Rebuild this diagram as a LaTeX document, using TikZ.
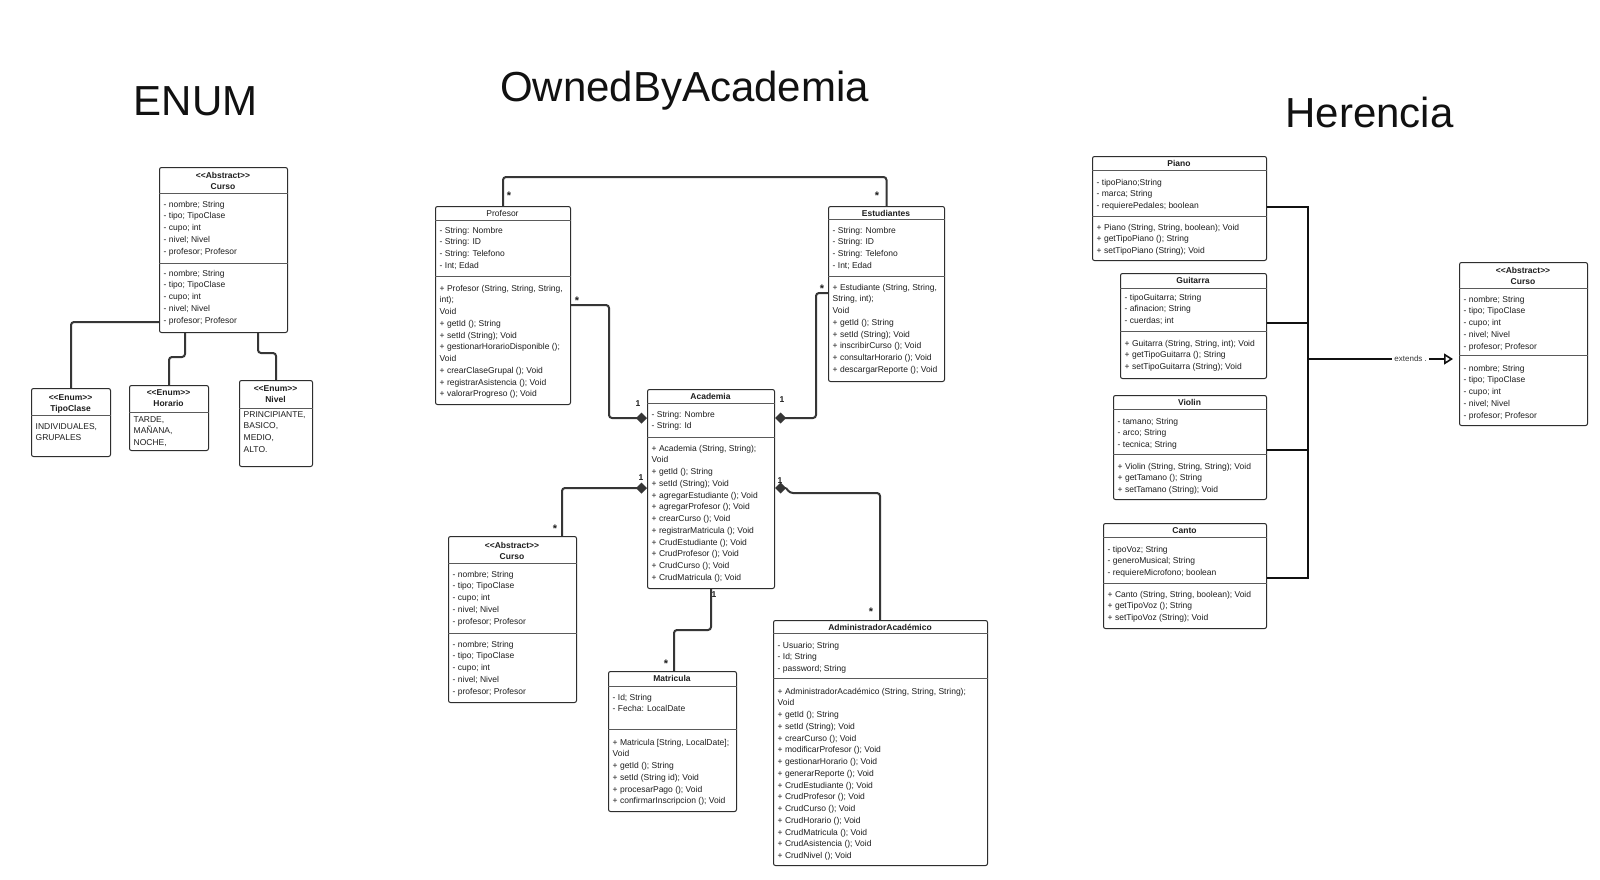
\documentclass[tikz,border=0pt]{standalone}
\usepackage{fontspec}
\setmainfont{Liberation Sans}[Ligatures=TeXOff]
\usetikzlibrary{arrows.meta}
\definecolor{boxc}{HTML}{2E2E2E}
\definecolor{divc}{HTML}{5A5A5A}
\definecolor{txtc}{HTML}{1E1E1E}
\definecolor{conc}{HTML}{363636}
\definecolor{herc}{HTML}{111111}
\definecolor{titc}{HTML}{111111}
\newcommand\bodyfont{\fontsize{8.5}{11.75}\selectfont}
\newcommand\hdrfont{\fontsize{8.5}{11.3}\selectfont\bfseries}
\newcommand\fs{\rule{0pt}{7pt}}
\tikzset{
  box/.style={draw=boxc, line width=1pt, rounded corners=2pt, fill=white, inner sep=0pt, anchor=north west},
  divl/.style={draw=divc, line width=0.9pt},
  comp/.style={anchor=north west, align=left, inner sep=0pt, font=\bodyfont, text=txtc},
  hdr/.style={anchor=north, align=center, inner sep=0pt, font=\hdrfont, text=txtc},
  conn/.style={draw=conc, line width=2pt, rounded corners=3pt},
  hconn/.style={draw=herc, line width=2.5pt},
  dia/.style={-{Diamond[length=11pt,width=11pt]}},
  mult/.style={font=\fontsize{8.5}{10}\selectfont\bfseries, inner sep=0pt, text=txtc},
  multstar/.style={font=\fontsize{11}{12}\selectfont\bfseries, inner sep=0pt, text=txtc, yshift=-2.5pt},
  bigtitle/.style={font=\fontsize{42}{48}\selectfont, anchor=base, inner sep=0pt, text=titc},
  extl/.style={font=\fontsize{8}{9}\selectfont, fill=white, inner sep=2pt, text=conc},
}
% name, x1, y1, x2, y2, div1, div2
\newcommand\umlbox[7]{%
  \node[box, minimum width={(#4-#2)*1pt}, minimum height={(#5-#3)*1pt}] (#1) at (#2,#3) {};
  \draw[divl] (#1.west |- 0,#6) -- (#1.east |- 0,#6);
  \draw[divl] (#1.west |- 0,#7) -- (#1.east |- 0,#7);
}
\newcommand\enumbox[6]{%
  \node[box, minimum width={(#4-#2)*1pt}, minimum height={(#5-#3)*1pt}] (#1) at (#2,#3) {};
  \draw[divl] (#1.west |- 0,#6) -- (#1.east |- 0,#6);
}
% name, x1, first line centre y, text
\newcommand\comp[4]{\node[comp] (#1) at ({#2+4.5},{#3-4}) {\fs#4};}
% name, x1, x2, first line centre y, text
\newcommand\hdrt[5]{\node[hdr] (#1) at ({(#2+#3)/2},{#4-4}) {\fs#5};}
\begin{document}
\begin{tikzpicture}[x=1pt, y=-1pt]
\fill[white] (0,0) rectangle (1600,879);
\useasboundingbox (0,0) rectangle (1600,879);

% ---------- titles ----------
\node[bigtitle] (tenum) at (195.5,115) {ENUM};
\node[bigtitle] (towned) at (684.5,101) {OwnedByAcademia};
\node[bigtitle] (therencia) at (1369.5,127) {Herencia};

% ---------- ENUM ----------
\umlbox{cA}{159}{167}{287}{332}{193}{263}
\hdrt{cAh}{159}{287}{175}{<<Abstract>>\\Curso}
\comp{cAa}{159}{204}{- nombre; String\\- tipo; TipoClase\\- cupo; int\\- nivel; Nivel\\- profesor; Profesor}
\comp{cAm}{159}{273}{- nombre; String\\- tipo; TipoClase\\- cupo; int\\- nivel; Nivel\\- profesor; Profesor}

\enumbox{tipo}{31}{388}{110}{456}{415}
\hdrt{tipoh}{31}{110}{397}{<<Enum>>\\TipoClase}
\comp{tipoa}{31}{426}{INDIVIDUALES,\\GRUPALES}

\enumbox{hor}{129}{385}{208}{450}{412}
\hdrt{horh}{129}{208}{392}{<<Enum>>\\Horario}
\comp{hora}{129}{419}{TARDE,\\MAÑANA,\\NOCHE,}

\enumbox{niv}{239}{380}{312}{466}{408}
\hdrt{nivh}{239}{312}{388}{<<Enum>>\\Nivel}
\comp{niva}{239}{414}{PRINCIPIANTE,\\BASICO,\\MEDIO,\\ALTO.}

\draw[conn] (cA.west |- 0,322) -| (tipo.north);
\draw[conn] (cA.south -| 185,0) |- (hor.north |- 0,357) -- (hor.north);
\draw[conn] (cA.south -| 258,0) |- (niv.north |- 0,353) -- (niv.north);

% ---------- OwnedByAcademia ----------
\umlbox{prof}{435}{206}{570}{404}{220}{276}
\hdrt{profh}{435}{570}{213}{\mdseries Profesor}
\comp{profa}{435}{230}{- String: Nombre\\- String: ID\\- String: Telefono\\- Int; Edad}
\comp{profm}{435}{288}{+ Profesor (String, String, String,\\int);\\Void\\+ getId (); String\\+ setId (String); Void\\+ gestionarHorarioDisponible ();\\Void\\+ crearClaseGrupal (); Void\\+ registrarAsistencia (); Void\\+ valorarProgreso (); Void}

\umlbox{est}{828}{206}{944}{381}{219}{276}
\hdrt{esth}{828}{944}{213}{Estudiantes}
\comp{esta}{828}{230}{- String: Nombre\\- String: ID\\- String: Telefono\\- Int; Edad}
\comp{estm}{828}{287}{+ Estudiante (String, String,\\String, int);\\Void\\+ getId (); String\\+ setId (String); Void\\+ inscribirCurso (); Void\\+ consultarHorario (); Void\\+ descargarReporte (); Void}

\umlbox{acad}{647}{389}{774}{588}{403}{437}
\hdrt{acadh}{647}{774}{396}{Academia}
\comp{acada}{647}{414}{- String: Nombre\\- String: Id}
\comp{acadm}{647}{448}{+ Academia (String, String);\\Void\\+ getId (); String\\+ setId (String); Void\\+ agregarEstudiante (); Void\\+ agregarProfesor (); Void\\+ crearCurso (); Void\\+ registrarMatricula (); Void\\+ CrudEstudiante (); Void\\+ CrudProfesor (); Void\\+ CrudCurso (); Void\\+ CrudMatricula (); Void}

\umlbox{cB}{448}{536}{576}{702}{563}{633}
\hdrt{cBh}{448}{576}{545}{<<Abstract>>\\Curso}
\comp{cBa}{448}{574}{- nombre; String\\- tipo; TipoClase\\- cupo; int\\- nivel; Nivel\\- profesor; Profesor}
\comp{cBm}{448}{644}{- nombre; String\\- tipo; TipoClase\\- cupo; int\\- nivel; Nivel\\- profesor; Profesor}

\umlbox{mat}{608}{671}{736}{811}{686}{729}
\hdrt{math}{608}{736}{678}{Matricula}
\comp{mata}{608}{697}{- Id; String\\- Fecha: LocalDate}
\comp{matm}{608}{742}{+ Matricula [String, LocalDate];\\Void\\+ getId (); String\\+ setId (String id); Void\\+ procesarPago (); Void\\+ confirmarInscripcion (); Void}

\umlbox{adm}{773}{620}{987}{865}{633}{678}
\hdrt{admh}{773}{987}{627}{AdministradorAcadémico}
\comp{adma}{773}{645}{- Usuario; String\\- Id; String\\- password; String}
\comp{admm}{773}{691}{+ AdministradorAcadémico (String, String, String);\\Void\\+ getId (); String\\+ setId (String); Void\\+ crearCurso (); Void\\+ modificarProfesor (); Void\\+ gestionarHorario (); Void\\+ generarReporte (); Void\\+ CrudEstudiante (); Void\\+ CrudProfesor (); Void\\+ CrudCurso (); Void\\+ CrudHorario (); Void\\+ CrudMatricula (); Void\\+ CrudAsistencia (); Void\\+ CrudNivel (); Void}

% connectors
\draw[conn] (prof.north -| 503,0) |- (est.north |- 0,177) -- (est.north);
\draw[conn, dia] (prof.east |- 0,305) -- (609,305) -- (609,418) -- (acad.west |- 0,418);
\draw[conn, dia] (est.west |- 0,293) -- (816,293) -- (816,418) -- (acad.east |- 0,418);
\draw[conn, dia] (cB.north -| 562,0) |- (acad.west |- 0,488);
\coordinate (admbend) at (786,488);
\draw[conn] (adm.north -| 880,0) -- (880,493) -- (790,493) -- (admbend);
\draw[conn, dia, rounded corners=0pt] (admbend) -- (acad.east |- 0,488);
\draw[conn] (acad.south -| 711,0) -- (711,630) -| (mat.north -| 674,0);

\node[multstar] (s1) at (509,193) {*};
\node[multstar] (s2) at (877,193) {*};
\node[multstar] (s3) at (577,298) {*};
\node[multstar] (s4) at (822,286) {*};
\node[multstar] (s5) at (555,526) {*};
\node[multstar] (s6) at (871,609) {*};
\node[multstar] (s7) at (666,661) {*};
\node[mult] (o1) at (638,404) {1};
\node[mult] (o2) at (782,400) {1};
\node[mult] (o3) at (641,478) {1};
\node[mult] (o4) at (780,481) {1};
\node[mult] (o5) at (714,595) {1};

% ---------- Herencia ----------
\umlbox{pia}{1092}{156}{1266}{260}{170}{216}
\hdrt{piah}{1092}{1266}{163}{Piano}
\comp{piaa}{1092}{182}{- tipoPiano;String\\- marca; String\\- requierePedales; boolean}
\comp{piam}{1092}{227}{+ Piano (String, String, boolean); Void\\+ getTipoPiano (); String\\+ setTipoPiano (String); Void}

\umlbox{gui}{1120}{273}{1266}{378}{288}{331}
\hdrt{guih}{1120}{1266}{280}{Guitarra}
\comp{guia}{1120}{297}{- tipoGuitarra; String\\- afinacion; String\\- cuerdas; int}
\comp{guim}{1120}{343}{+ Guitarra (String, String, int); Void\\+ getTipoGuitarra (); String\\+ setTipoGuitarra (String); Void}

\umlbox{vio}{1113}{395}{1266}{499}{409}{454}
\hdrt{vioh}{1113}{1266}{402}{Violin}
\comp{vioa}{1113}{421}{- tamano; String\\- arco; String\\- tecnica; String}
\comp{viom}{1113}{466}{+ Violin (String, String, String); Void\\+ getTamano (); String\\+ setTamano (String); Void}

\umlbox{can}{1103}{523}{1266}{628}{537}{583}
\hdrt{canh}{1103}{1266}{530}{Canto}
\comp{cana}{1103}{549}{- tipoVoz; String\\- generoMusical; String\\- requiereMicrofono; boolean}
\comp{canm}{1103}{594}{+ Canto (String, String, boolean); Void\\+ getTipoVoz (); String\\+ setTipoVoz (String); Void}

\umlbox{cC}{1459}{262}{1587}{425}{288}{355}
\hdrt{cCh}{1459}{1587}{270}{<<Abstract>>\\Curso}
\comp{cCa}{1459}{299}{- nombre; String\\- tipo; TipoClase\\- cupo; int\\- nivel; Nivel\\- profesor; Profesor}
\comp{cCm}{1459}{368}{- nombre; String\\- tipo; TipoClase\\- cupo; int\\- nivel; Nivel\\- profesor; Profesor}

\coordinate (tr1) at (1308,207);
\coordinate (tr2) at (1308,578);
\coordinate (trm) at (1308,359);
\draw[hconn] (pia.east |- tr1) -- (tr1) -- (tr2) -- (can.east |- tr2);
\draw[hconn] (gui.east |- 0,323) -- (tr1 |- 0,323);
\draw[hconn] (vio.east |- 0,450) -- (tr1 |- 0,450);
\draw[hconn, -{Triangle[open, length=9pt, width=11pt, line width=1.6pt, fill=white]}, shorten >=6pt] (trm) -- (cC.west |- trm)
  node[extl, pos=0.68] (extlab) {extends .};
\end{tikzpicture}
\end{document}
